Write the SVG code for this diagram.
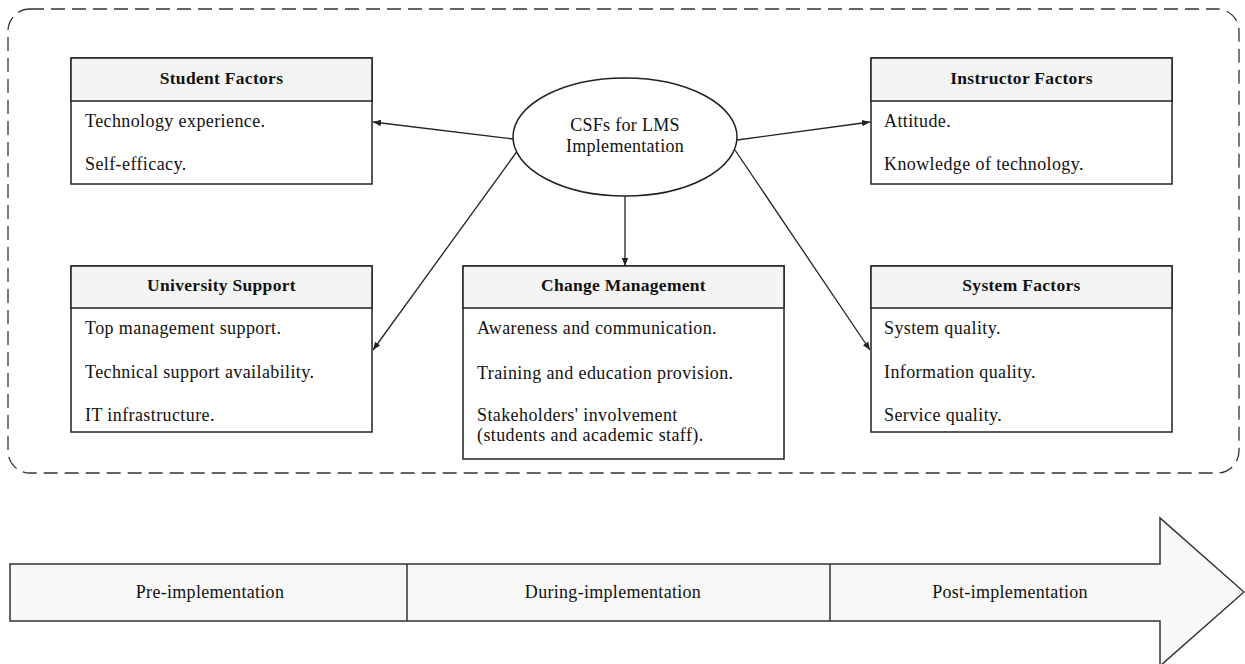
<svg xmlns="http://www.w3.org/2000/svg" width="1245" height="664" viewBox="0 0 1245 664">
<style>
text{font-family:"Liberation Serif","Times New Roman",serif;fill:#111;}
.t{font-size:17.5px;font-weight:bold;text-anchor:middle;letter-spacing:0.3px;}
.b{font-size:18px;letter-spacing:0.4px;}
.c{font-size:18px;text-anchor:middle;letter-spacing:0.3px;}
.box{fill:#fff;stroke:#222;stroke-width:1.5;}
.hd{fill:#f4f4f4;stroke:#222;stroke-width:1.5;}
.ln{stroke:#222;stroke-width:1.3;fill:none;marker-end:url(#ah);}
</style>
<defs>
<marker id="ah" viewBox="0 0 10 10" refX="10" refY="5" markerWidth="8" markerHeight="8" markerUnits="userSpaceOnUse" orient="auto">
<path d="M0,1 L10,5 L0,9 Z" fill="#222"/>
</marker>
</defs>
<rect id="boundary" x="8" y="9" width="1231" height="464" rx="22" ry="22" fill="none" stroke="#333" stroke-width="1.3" stroke-dasharray="14,7"/>

<g id="connectors">
<line class="ln" x1="513" y1="139" x2="373" y2="122"/>
<line class="ln" x1="518" y1="150" x2="373" y2="350"/>
<line class="ln" x1="737" y1="140" x2="870" y2="122"/>
<line class="ln" x1="735" y1="150" x2="870" y2="350"/>
<line class="ln" x1="625" y1="196" x2="625" y2="266"/>
</g>

<g id="center">
<ellipse cx="625" cy="137" rx="112" ry="59" fill="#fff" stroke="#222" stroke-width="1.5"/>
<text class="c" x="625" y="131">CSFs for LMS</text>
<text class="c" x="625" y="152">Implementation</text>
</g>

<g id="student">
<rect class="box" x="71" y="58" width="301" height="126"/>
<rect class="hd" x="71" y="58" width="301" height="43"/>
<text class="t" x="221.5" y="84">Student Factors</text>
<text class="b" x="85" y="127">Technology experience.</text>
<text class="b" x="85" y="170">Self-efficacy.</text>
</g>

<g id="instructor">
<rect class="box" x="871" y="58" width="301" height="126"/>
<rect class="hd" x="871" y="58" width="301" height="43"/>
<text class="t" x="1021.5" y="84">Instructor Factors</text>
<text class="b" x="884" y="127">Attitude.</text>
<text class="b" x="884" y="170">Knowledge of technology.</text>
</g>

<g id="university">
<rect class="box" x="71" y="266" width="301" height="166"/>
<rect class="hd" x="71" y="266" width="301" height="42"/>
<text class="t" x="221.5" y="291">University Support</text>
<text class="b" x="85" y="334">Top management support.</text>
<text class="b" x="85" y="378">Technical support availability.</text>
<text class="b" x="85" y="421">IT infrastructure.</text>
</g>

<g id="change">
<rect class="box" x="463" y="266" width="321" height="193"/>
<rect class="hd" x="463" y="266" width="321" height="42"/>
<text class="t" x="623.5" y="291">Change Management</text>
<text class="b" x="477" y="334">Awareness and communication.</text>
<text class="b" x="477" y="379">Training and education provision.</text>
<text class="b" x="477" y="421">Stakeholders' involvement</text>
<text class="b" x="477" y="441">(students and academic staff).</text>
</g>

<g id="system">
<rect class="box" x="871" y="266" width="301" height="166"/>
<rect class="hd" x="871" y="266" width="301" height="42"/>
<text class="t" x="1021.5" y="291">System Factors</text>
<text class="b" x="884" y="334">System quality.</text>
<text class="b" x="884" y="378">Information quality.</text>
<text class="b" x="884" y="421">Service quality.</text>
</g>

<g id="timeline">
<polygon points="10,564 1160,564 1160,518 1244,592 1160,666 1160,621 10,621" fill="#f8f8f8" stroke="#333" stroke-width="1.5"/>
<line x1="407" y1="564" x2="407" y2="621" stroke="#333" stroke-width="1.5"/>
<line x1="830" y1="564" x2="830" y2="621" stroke="#333" stroke-width="1.5"/>
<text class="c" x="210" y="598">Pre-implementation</text>
<text class="c" x="613" y="598">During-implementation</text>
<text class="c" x="1010" y="598">Post-implementation</text>
</g>
</svg>
